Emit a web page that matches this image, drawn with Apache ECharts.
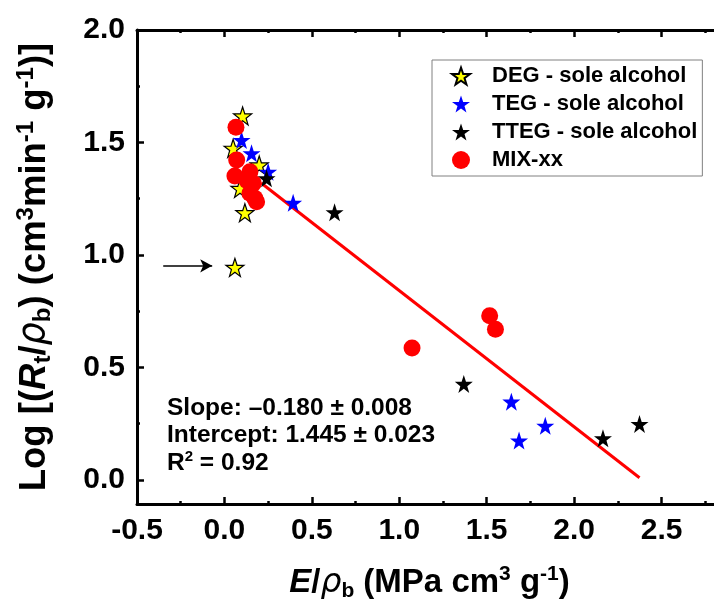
<!DOCTYPE html>
<html>
<head>
<meta charset="utf-8">
<script src="https://cdn.jsdelivr.net/npm/echarts@6/dist/echarts.min.js"></script>
<style>html,body{margin:0;padding:0;background:#fff;}#c{width:714px;height:601px;}</style>
</head>
<body>
<div id="c"></div>
<script>
// ---- data ----
var degData = [[0.104,1.618],[0.05,1.474],[0.199,1.40],[0.089,1.296],[0.117,1.188],[0.06,0.945]];
var tegData = [[0.098,1.511],[0.155,1.452],[0.25,1.37],[0.393,1.232],[1.641,0.348],[1.835,0.241],[1.685,0.175]];
var ttegData = [[0.241,1.341],[0.63,1.19],[1.369,0.427],[2.165,0.185],[2.374,0.249]];
var mixData = [[0.066,1.568],[0.07,1.422],[0.06,1.351],[0.146,1.37],[0.13,1.33],[0.165,1.319],[0.146,1.274],[0.174,1.252],[0.184,1.237],[1.073,0.587],[1.517,0.730],[1.55,0.670]];
var fitLine = [[0.21,1.32],[2.374,0.01]];
var arrowStart = [-0.35,0.952];
var arrowEnd = [-0.07,0.952];
var xMajorTicks = [-0.5,0,0.5,1,1.5,2,2.5];
var xMinorTicks = [-0.25,0.25,0.75,1.25,1.75,2.25,2.75];
var yMajorTicks = [0,0.5,1,1.5,2];
var yMinorTicks = [0.25,0.75,1.25,1.75];
var seriesNames = ['DEG - sole alcohol','TEG - sole alcohol','TTEG - sole alcohol','MIX-xx'];
var fitText = ['Slope: \u20130.180 \u00b1 0.008','Intercept: 1.445 \u00b1 0.023','R','2',' = 0.92'];

var STAR = 'path://M50,0 L61.8,35.1 L98.5,35.1 L68.8,57 L79.4,91.4 L50,70.6 L20.6,91.4 L31.2,57 L1.5,35.1 L38.2,35.1 Z';
var FONT = 'Liberation Sans';
var X_MIN = -0.5, X_MAX = 2.8, Y_MIN = -0.1067, Y_MAX = 2.0;

var chart = echarts.init(document.getElementById('c'), null, {renderer:'canvas'});

var tickLabel = {fontSize:30, fontWeight:'bold', fontFamily:FONT, color:'#000'};
function makeRich(fs, lh, ss){
  return {
    n:{fontSize:fs, fontWeight:'bold', fontFamily:FONT, color:'#000', lineHeight:lh},
    i:{fontSize:fs, fontWeight:'bold', fontStyle:'italic', fontFamily:FONT, color:'#000', lineHeight:lh},
    ri:{fontSize:fs, fontStyle:'italic', fontFamily:'DejaVu Sans', color:'#000', lineHeight:lh},
    sub:{fontSize:ss, fontWeight:'bold', fontFamily:FONT, color:'#000', verticalAlign:'bottom', lineHeight:lh},
    sup:{fontSize:ss, fontWeight:'bold', fontFamily:FONT, color:'#000', verticalAlign:'top', lineHeight:lh}
  };
}
function lineCfg(show){return {show:show, onZero:false, lineStyle:{color:'#000', width:3}};}
function tickCfg(vals, len){return {show:true, inside:true, length:len, customValues:vals, lineStyle:{color:'#000', width:2.5}};}
function fmt(v){return v.toFixed(1);}

var option = {
  animation:false,
  backgroundColor:'#fff',
  grid:{left:137, top:30, right:0, bottom:97, containLabel:false, outerBoundsMode:'none'},
  legend:{
    orient:'vertical', left:432, top:60,
    padding:[5,5,5,19], itemWidth:18, itemHeight:18, itemGap:6,
    borderColor:'#808080', borderWidth:1,
    textStyle:{fontSize:22, fontWeight:'bold', fontFamily:FONT, color:'#000', padding:[0,0,0,17]},
    data:seriesNames
  },
  xAxis:[{
    type:'value', position:'bottom', min:X_MIN, max:X_MAX,
    axisLine:lineCfg(true), axisTick:tickCfg(xMajorTicks,7), splitLine:{show:false},
    axisLabel:{show:true, margin:12, customValues:xMajorTicks, formatter:fmt, ...tickLabel},
    name:'{i|E}{n|/}{ri|\u03c1}{sub|b}{n| (MPa cm}{sup|3}{n| g}{sup|-1}{n|)}',
    nameLocation:'middle', nameGap:60,
    nameTextStyle:{rich:makeRich(33,38,21), padding:[0,0,0,8]}
  },{
    type:'value', position:'bottom', min:X_MIN, max:X_MAX,
    axisLine:lineCfg(false), axisTick:tickCfg(xMinorTicks,3), splitLine:{show:false}, axisLabel:{show:false}
  },{
    type:'value', position:'top', min:X_MIN, max:X_MAX,
    axisLine:lineCfg(true), axisTick:tickCfg(xMajorTicks,7), splitLine:{show:false}, axisLabel:{show:false}
  },{
    type:'value', position:'top', min:X_MIN, max:X_MAX,
    axisLine:lineCfg(false), axisTick:tickCfg(xMinorTicks,3), splitLine:{show:false}, axisLabel:{show:false}
  }],
  yAxis:[{
    type:'value', position:'left', min:Y_MIN, max:Y_MAX,
    axisLine:lineCfg(true), axisTick:tickCfg(yMajorTicks,7), splitLine:{show:false},
    axisLabel:{show:true, margin:12, customValues:yMajorTicks, formatter:fmt, ...tickLabel},
    name:'{n|Log [(}{i|R}{sub|t}{n|/}{ri|\u03c1}{sub|b}{n|) (cm}{sup|3}{n|min}{sup|-1}{n| g}{sup|-1}{n|)]}',
    nameLocation:'middle', nameRotate:90, nameGap:82,
    nameTextStyle:{rich:makeRich(36.5,41,24)}
  },{
    type:'value', position:'left', min:Y_MIN, max:Y_MAX,
    axisLine:lineCfg(false), axisTick:tickCfg(yMinorTicks,3), splitLine:{show:false}, axisLabel:{show:false}
  }],
  graphic:[{
    type:'text', left:167, top:394,
    style:{
      text:fitText[0]+'\n'+fitText[1]+'\n{r|'+fitText[2]+'}{s|'+fitText[3]+'}{r|'+fitText[4]+'}',
      font:'bold 24.5px "Liberation Sans"', fill:'#000', lineHeight:27.5,
      rich:{r:{font:'bold 24.5px "Liberation Sans"', fill:'#000', lineHeight:27.5}, s:{font:'bold 15px "Liberation Sans"', fill:'#000', verticalAlign:'top', lineHeight:27.5}}
    }
  }],
  series:[
    {type:'line', name:'fit', data:fitLine, showSymbol:false, symbol:'none', z:1,
     lineStyle:{color:'#ff0000', width:3}, itemStyle:{color:'#ff0000'}, silent:true,
     markLine:{silent:true, symbol:['none','arrow'], symbolSize:[10,12], label:{show:false},
       lineStyle:{color:'#000', width:1.5, type:'solid'},
       data:[[{coord:arrowStart},{coord:arrowEnd}]]}},
    {type:'scatter', name:seriesNames[0], data:degData, symbol:STAR, symbolSize:18, z:3,
     itemStyle:{color:'#ffff00', borderColor:'#000', borderWidth:1.2, opacity:1}},
    {type:'scatter', name:seriesNames[1], data:tegData, symbol:STAR, symbolSize:18, z:3,
     itemStyle:{color:'#0000ff', opacity:1}},
    {type:'scatter', name:seriesNames[2], data:ttegData, symbol:STAR, symbolSize:18, z:3,
     itemStyle:{color:'#000000', opacity:1}},
    {type:'scatter', name:seriesNames[3], data:mixData, symbol:'circle', symbolSize:17, z:4,
     itemStyle:{color:'#ff0000', opacity:1}}
  ]
};
chart.setOption(option);
</script>
</body>
</html>
